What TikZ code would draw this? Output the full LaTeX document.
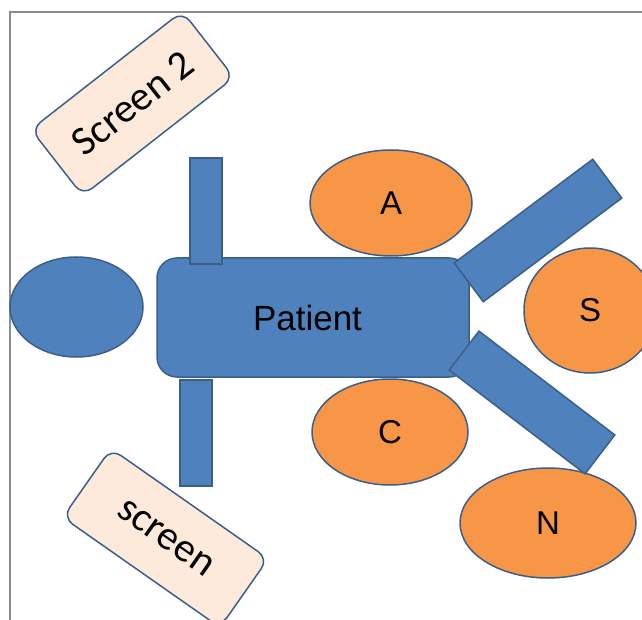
\documentclass[tikz,border=0pt]{standalone}
\usepackage{fontspec}
\setmainfont{Liberation Sans}
\newfontfamily\tagfont{Carlito}
\usetikzlibrary{shapes.geometric}
\definecolor{bodyblue}{HTML}{4F81BD}
\definecolor{edgeblue}{HTML}{3A5F8B}
\definecolor{padorange}{HTML}{F79646}
\definecolor{tagfill}{HTML}{FDEADA}
\definecolor{framegray}{HTML}{8C8C8C}
\begin{document}
\begin{tikzpicture}[x=1pt,y=-1pt,line width=1.5pt,
  part/.style={draw=edgeblue,fill=bodyblue,inner sep=0pt},
  limb/.style={part,rectangle},
  pad/.style={draw=edgeblue,fill=padorange,ellipse,inner sep=0pt,
    font=\fontsize{33}{33}\selectfont},
  tag/.style={draw=edgeblue,fill=tagfill,rectangle,rounded corners=12pt,
    inner sep=0pt,minimum width=192pt,minimum height=84pt,
    font=\tagfont\fontsize{41}{41}\selectfont}]
\useasboundingbox (0,0) rectangle (642,620);

% page frame
\coordinate (fa) at (642,12);
\coordinate (fb) at (10,12);
\coordinate (fc) at (10,620);
\draw[framegray,line width=1.2pt] (fa) -- (fb) -- (fc);

% head
\node[part,ellipse,minimum width=133pt,minimum height=100pt] (head) at (76.5,307) {};

% surrounding stations
\node[pad,minimum width=162pt,minimum height=106pt] (a) at (391,203) {A};
\node[pad,minimum width=156pt,minimum height=106pt] (c) at (390,432) {C};
\node[pad,minimum width=132pt,minimum height=125pt] (s) at (590,310.5) {S};
\node[pad,minimum width=176pt,minimum height=110pt] (n) at (548,523) {N};

% body
\node[part,rectangle,rounded corners=20pt,minimum width=312pt,minimum height=119pt,
  font=\fontsize{35}{35}\selectfont] (patient) at (313,317.5) {\kern-11pt Patient};

% arms
\node[limb,minimum width=32pt,minimum height=106pt] (armup) at (206,211) {};
\node[limb,minimum width=32pt,minimum height=106pt] (armdown) at (196,433) {};

% legs
\node[limb,minimum width=173pt,minimum height=48.5pt,rotate=36.8] (legup) at (538,230.5) {};
\node[limb,minimum width=171pt,minimum height=49pt,rotate=-37.4] (legdown) at (532,402.5) {};

% screens
\node[tag,rotate=38] (screen2) at (132.5,103.5) {Screen 2};
\node[tag,rotate=-35] (screen) at (165.5,538) {screen};
\end{tikzpicture}
\end{document}
